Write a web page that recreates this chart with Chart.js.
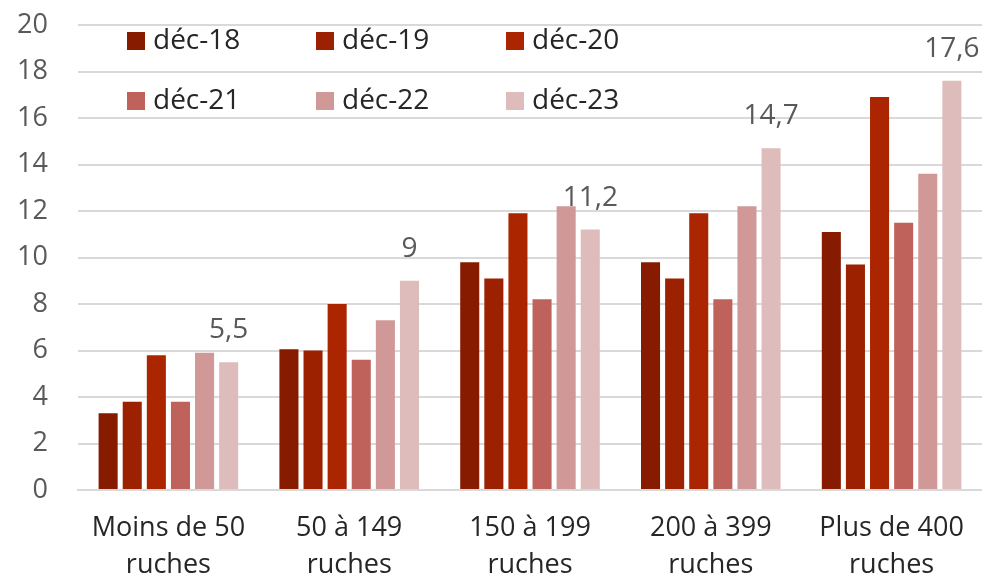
<!DOCTYPE html>
<html>
<head>
<meta charset="utf-8">
<script src="https://cdn.jsdelivr.net/npm/chart.js@4.4.1/dist/chart.umd.min.js"></script>
<style>
  html, body { margin: 0; padding: 0; background: #ffffff; }
  #wrap { width: 982px; height: 580px; position: relative; }
</style>
</head>
<body>
<div id="wrap"><canvas id="c" width="982" height="580"></canvas></div>
<script>
// Categories (farm size by number of hives)
const categories = [
  ["Moins de 50", "ruches"],
  ["50 à 149", "ruches"],
  ["150 à 199", "ruches"],
  ["200 à 399", "ruches"],
  ["Plus de 400", "ruches"]
];

// Series labels
const seriesLabels = ["déc-18", "déc-19", "déc-20", "déc-21", "déc-22", "déc-23"];

// Series values, one array per year
const dec18 = [3.3, 6.05, 9.8, 9.8, 11.1];
const dec19 = [3.8, 6.0, 9.1, 9.1, 9.7];
const dec20 = [5.8, 8.0, 11.9, 11.9, 16.9];
const dec21 = [3.8, 5.6, 8.2, 8.2, 11.5];
const dec22 = [5.9, 7.3, 12.2, 12.2, 13.6];
const dec23 = [5.5, 9.0, 11.2, 14.7, 17.6];

// Y-axis tick values
const yTicks = [0, 2, 4, 6, 8, 10, 12, 14, 16, 18, 20];

const seriesValues = [dec18, dec19, dec20, dec21, dec22, dec23];
const seriesColors = ["#861b00", "#9b2100", "#ab2500", "#bf625b", "#d09896", "#debcbb"];

const FONT = "'Open Sans', 'DejaVu Sans', sans-serif";

// Value labels above the last series only
const valueLabels = {
  id: 'valueLabels',
  afterDatasetsDraw(chart) {
    const ctx = chart.ctx;
    const last = chart.data.datasets.length - 1;
    const meta = chart.getDatasetMeta(last);
    ctx.save();
    ctx.font = "28px " + FONT;
    ctx.fillStyle = "#595959";
    ctx.textAlign = "center";
    ctx.textBaseline = "middle";
    meta.data.forEach((bar, i) => {
      const v = chart.data.datasets[last].data[i];
      const txt = String(v).replace('.', ',');
      ctx.fillText(txt, bar.x, bar.y - 32);
    });
    ctx.restore();
  }
};

// Legend laid out as a 3-column grid inside the plot area
const gridLegend = {
  id: 'gridLegend',
  afterDraw(chart) {
    const ctx = chart.ctx;
    const colX = [127, 316, 506];
    const rowY = [41, 101];
    ctx.save();
    ctx.font = "28px " + FONT;
    ctx.textBaseline = "middle";
    ctx.textAlign = "left";
    chart.data.datasets.forEach((ds, i) => {
      const x = colX[i % 3];
      const y = rowY[Math.floor(i / 3)];
      ctx.fillStyle = ds.backgroundColor;
      ctx.fillRect(x, y - 9, 18, 18);
      ctx.fillStyle = "#262626";
      ctx.fillText(ds.label, x + 26, y);
    });
    ctx.restore();
  }
};

new Chart(document.getElementById('c'), {
  type: 'bar',
  data: {
    labels: categories,
    datasets: seriesLabels.map((lab, i) => ({
      label: lab,
      data: seriesValues[i],
      backgroundColor: seriesColors[i],
      borderWidth: 0,
      categoryPercentage: 0.8,
      barPercentage: 0.79
    }))
  },
  options: {
    responsive: false,
    animation: false,
    devicePixelRatio: 1,
    layout: { padding: { top: 25, right: 0, left: 0, bottom: 0 } },
    plugins: {
      legend: { display: false },
      tooltip: { enabled: false }
    },
    scales: {
      x: {
        grid: { display: false, drawTicks: false },
        border: { display: true, color: "#d9d9d9", width: 2 },
        ticks: {
          color: "#262626",
          font: { family: FONT, size: 27, lineHeight: 1.4 },
          padding: 19,
          maxRotation: 0,
          autoSkip: false
        },
        afterFit(s) { s.height = 90; s.paddingLeft = 0; s.paddingRight = 0; }
      },
      y: {
        min: 0,
        max: 20,
        afterBuildTicks(s) { s.ticks = yTicks.map(v => ({ value: v })); },
        grid: { color: "#d9d9d9", lineWidth: 2, drawTicks: false },
        border: { display: false },
        ticks: {
          color: "#595959",
          font: { family: FONT, size: 27 },
          padding: 30
        },
        afterFit(s) { s.width = 78; s.paddingTop = 0; s.paddingBottom = 0; }
      }
    }
  },
  plugins: [valueLabels, gridLegend]
});
</script>
</body>
</html>
